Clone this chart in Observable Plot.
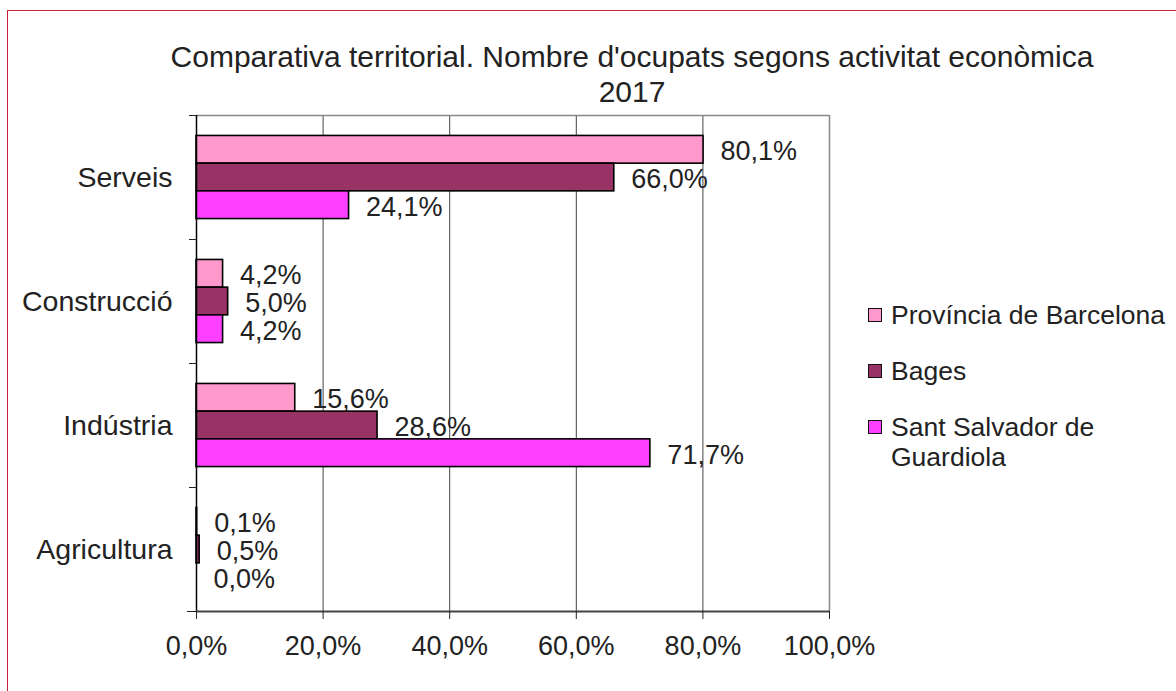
<!DOCTYPE html>
<html>
<head>
<meta charset="utf-8">
<script src="https://cdn.jsdelivr.net/npm/d3@7"></script>
<script src="https://cdn.jsdelivr.net/npm/@observablehq/plot@0.6"></script>
<style>
  html, body { margin: 0; padding: 0; background: #fff; }
  #wrap { position: relative; width: 1176px; height: 691px; overflow: hidden; font-family: "Liberation Sans", Arial, sans-serif; color: #222; }
  #border { position: absolute; left: 7px; top: 10px; width: 1300px; height: 800px; border-left: 1.5px solid #c8203a; border-top: 1.5px solid #c8203a; box-sizing: border-box; }
  #chart { position: absolute; left: 0; top: 0; }
  #title { position: absolute; left: 132px; width: 1000px; top: 39px; text-align: center; font-size: 30px; line-height: 35px; }
  #legend { position: absolute; left: 868px; top: 300px; font-size: 26.5px; }
  .item { position: absolute; left: 0; white-space: nowrap; line-height: 30px; }
  .sw { position: absolute; left: 0; top: 8px; width: 12px; height: 12px; border: 1.5px solid #111; }
  .lab { position: absolute; left: 23px; }
</style>
</head>
<body>
<div id="wrap">
  <div id="border"></div>
  <div id="chart"></div>
  <div id="title">Comparativa territorial. Nombre d'ocupats segons activitat econòmica<br>2017</div>
  <div id="legend"></div>
</div>
<script>
const categories = ["Serveis", "Construcció", "Indústria", "Agricultura"];
const seriesNames = ["Província de Barcelona", "Bages", "Sant Salvador de Guardiola"];
const provincia = [80.1, 4.2, 15.6, 0.1];
const bages = [66.0, 5.0, 28.6, 0.5];
const santSalvador = [24.1, 4.2, 71.7, 0.0];
const seriesColors = ["#FF99CC", "#993366", "#FF40FF"];
const xTicks = [0, 20, 40, 60, 80, 100];

const seriesValues = [provincia, bages, santSalvador];
const rows = seriesValues.map((vals, s) =>
  categories.map((c, i) => ({category: c, series: seriesNames[s], value: vals[i]}))
);

const fmt = d => d.toFixed(1).replace(".", ",") + "%";

const W = 1176, H = 691;
const mTop = 115, mBottom = 80, mLeft = 196, mRight = 347;
const band = (H - mTop - mBottom) / categories.length; // 124
const barH = 27.7;
const groupPad = (band - 3 * barH) / 2;

const marks = [];
// gridlines
marks.push(Plot.ruleX([20, 40, 60, 80], {stroke: "#444", strokeWidth: 1}));
marks.push(Plot.ruleX([100], {stroke: "#888", strokeWidth: 1.5}));
// top border
marks.push(Plot.ruleY([categories[0]], {dy: -band / 2, stroke: "#888", strokeWidth: 1.5}));
// bars
rows.forEach((data, s) => {
  marks.push(Plot.barX(data, {
    x: "value", y: "category",
    fill: seriesColors[s], stroke: "#000", strokeWidth: 1.6,
    insetTop: groupPad + s * barH,
    insetBottom: band - groupPad - (s + 1) * barH
  }));
});
// value labels
rows.forEach((data, s) => {
  marks.push(Plot.text(data, {
    x: "value", y: "category", text: d => fmt(d.value),
    textAnchor: "start", dx: 17, dy: (s - 1) * barH + 2,
    fontSize: 27, fill: "#222"
  }));
});
// left axis line
marks.push(Plot.ruleX([0], {stroke: "#000", strokeWidth: 1.5}));
// bottom axis line
marks.push(Plot.ruleY([categories[categories.length - 1]], {dy: band / 2, stroke: "#444", strokeWidth: 2}));
// category boundary ticks
marks.push(Plot.ruleY(categories, {x1: 0, x2: 0, dy: -band / 2, insetLeft: -7, insetRight: 0, stroke: "#222"}));
marks.push(Plot.ruleY([categories[categories.length - 1]], {x1: 0, x2: 0, dy: band / 2, insetLeft: -9, insetRight: 0, stroke: "#222"}));
// axes
marks.push(Plot.axisX({ticks: xTicks, tickFormat: fmt, tickSize: 8, tickPadding: 16, fontSize: 27, stroke: "#222", fill: "#222"}));
marks.push(Plot.axisY({tickSize: 0, tickPadding: 24, fontSize: 28.5, fill: "#222"}));

const chart = Plot.plot({
  width: W, height: H,
  marginTop: mTop, marginBottom: mBottom, marginLeft: mLeft, marginRight: mRight,
  style: {fontFamily: "'Liberation Sans', Arial, sans-serif", fontSize: "27px", color: "#222", background: "transparent", overflow: "visible"},
  x: {domain: [0, 100], label: null},
  y: {domain: categories, padding: 0, label: null},
  marks
});
document.getElementById("chart").appendChild(chart);

// legend
const legend = document.getElementById("legend");
const legendTops = [0, 56, 112];
seriesNames.forEach((name, i) => {
  const item = document.createElement("div");
  item.className = "item";
  item.style.top = legendTops[i] + "px";
  const sw = document.createElement("div");
  sw.className = "sw";
  sw.style.background = seriesColors[i];
  const lab = document.createElement("div");
  lab.className = "lab";
  lab.innerHTML = name === "Sant Salvador de Guardiola" ? "Sant Salvador de<br>Guardiola" : name;
  item.appendChild(sw);
  item.appendChild(lab);
  legend.appendChild(item);
});
</script>
</body>
</html>
